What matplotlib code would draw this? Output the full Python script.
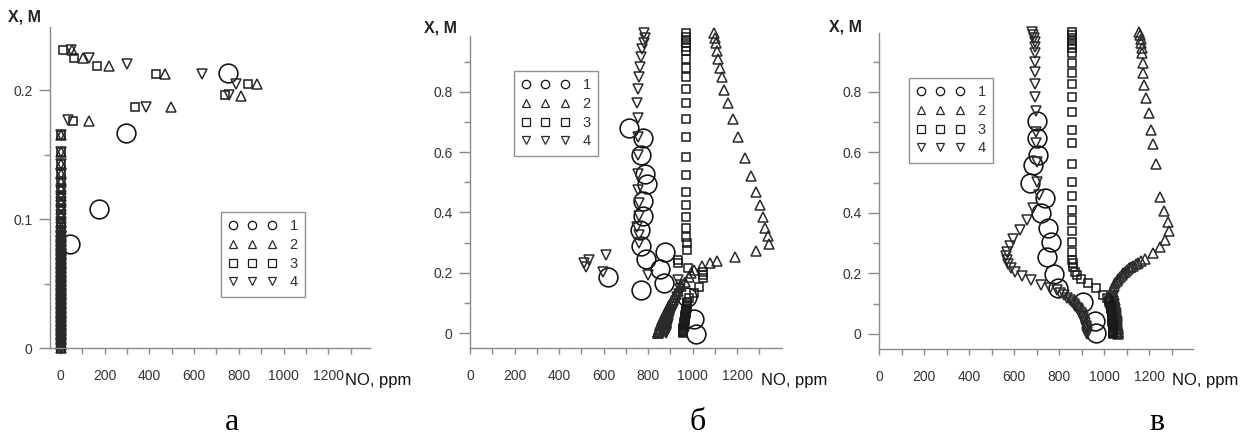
import matplotlib.pyplot as plt
from matplotlib.lines import Line2D

plt.rcParams['font.family'] = ['Liberation Sans', 'DejaVu Sans']

# x axis ticks shared by all three panels
x_ticks = [0, 200, 400, 600, 800, 1000, 1200]
x_tick_labels = ['0', '200', '400', '600', '800', '1000', '1200']
x_minor = [100, 300, 500, 700, 900, 1100, 1300]

series_labels = ['1', '2', '3', '4']
panel_letters = ['а', 'б', 'в']

# ---- panel a ----
a_circ_no = [753, 295, 174, 45]
a_circ_x = [0.2134, 0.167, 0.1075, 0.081]

# points above the near-zero column
a_tri_no = [55, 101, 221, 471, 880, 808, 497, 128, 5]
a_tri_x = [0.2315, 0.2253, 0.219, 0.2124, 0.2047, 0.1957, 0.1868, 0.176, 0.165]
a_sq_no = [15, 63, 164, 430, 841, 738, 334, 57, 2]
a_sq_x = [0.2315, 0.2253, 0.219, 0.2124, 0.2047, 0.196, 0.1868, 0.176, 0.165]
a_inv_no = [49, 131, 298, 634, 787, 758, 383, 37, 3]
a_inv_x = [0.2315, 0.2253, 0.22, 0.2127, 0.205, 0.196, 0.1868, 0.1767, 0.165]

# the column of near-zero NO values shared by series 2-4
a_col_no = [3, 3, 3, 3, 3, 3, 3, 3, 3, 3, 3, 3, 3, 3, 3, 3, 3, 3, 3,
            3, 3, 3, 3, 3, 3, 3, 3, 3, 3, 3, 3, 3, 3, 3, 3, 3, 3, 3,
            3, 3, 3, 3, 3, 3, 3, 3, 3, 3, 3, 3, 3, 3, 3, 3, 3, 3, 3]
a_col_x = [0.152, 0.143, 0.135, 0.129, 0.123, 0.118, 0.113, 0.108, 0.103,
           0.098, 0.094, 0.090, 0.088, 0.086, 0.084, 0.082, 0.080, 0.078,
           0.076, 0.074, 0.072, 0.070, 0.068, 0.066, 0.064, 0.062, 0.060,
           0.058, 0.056, 0.054, 0.052, 0.050, 0.048, 0.046, 0.044, 0.042,
           0.040, 0.038, 0.036, 0.034, 0.032, 0.030, 0.028, 0.026, 0.024,
           0.022, 0.020, 0.018, 0.016, 0.014, 0.012, 0.010, 0.008, 0.006,
           0.004, 0.002, 0.000]

# ---- panel b ----
b_circ_no = [716, 776, 768, 786, 795, 776, 776, 765, 768, 791, 876, 855,
             873, 768, 622, 975, 1005, 1016]
b_circ_x = [0.681, 0.646, 0.59, 0.526, 0.493, 0.439, 0.388, 0.342, 0.29,
            0.245, 0.27, 0.211, 0.165, 0.143, 0.185, 0.12, 0.045, -0.003]

b_tri_no = [1098, 1101, 1104, 1108, 1116, 1122, 1131, 1143, 1158, 1181,
            1206, 1236, 1263, 1285, 1303, 1315, 1327, 1338, 1342, 1285,
            1191, 1110, 1080, 1043, 1008, 993, 985, 965, 950, 935, 925,
            918, 912, 906, 900, 895, 890, 885, 880, 876, 872, 868, 865,
            862, 859, 856, 854, 852, 850, 849, 848, 847, 846, 845, 845]
b_tri_x = [0.994, 0.977, 0.961, 0.936, 0.908, 0.878, 0.849, 0.806, 0.762,
           0.71, 0.649, 0.581, 0.521, 0.467, 0.425, 0.386, 0.349, 0.322,
           0.295, 0.273, 0.253, 0.239, 0.233, 0.222, 0.209, 0.198, 0.187,
           0.17, 0.155, 0.14, 0.128, 0.118, 0.111, 0.104, 0.097, 0.09,
           0.083, 0.076, 0.069, 0.062, 0.056, 0.05, 0.044, 0.038, 0.032,
           0.027, 0.022, 0.017, 0.013, 0.01, 0.007, 0.005, 0.003, 0.001,
           0.0]

b_sq_no = [971, 971, 971, 971, 971, 971, 971, 971, 971, 971, 971, 971,
           971, 971, 971, 971, 971, 971, 971, 971, 975, 975, 933, 935,
           978, 1046, 1048, 1045, 1030, 1008, 985, 977, 976, 975, 974,
           973, 972, 971, 970, 969, 968, 967, 966, 965, 964, 963, 962,
           961, 960, 960, 959, 958, 958, 957, 957, 956, 956]
b_sq_x = [0.994, 0.983, 0.972, 0.961, 0.95, 0.936, 0.91, 0.878, 0.848,
          0.808, 0.762, 0.71, 0.651, 0.585, 0.524, 0.469, 0.425, 0.386,
          0.349, 0.319, 0.297, 0.275, 0.242, 0.231, 0.215, 0.203, 0.192,
          0.181, 0.154, 0.134, 0.115, 0.104, 0.099, 0.094, 0.089, 0.084,
          0.079, 0.074, 0.069, 0.064, 0.059, 0.054, 0.049, 0.044, 0.04,
          0.036, 0.032, 0.028, 0.024, 0.02, 0.016, 0.012, 0.009, 0.006,
          0.004, 0.002, 0.0]

b_inv_no = [783, 788, 780, 774, 769, 763, 758, 755, 752, 754, 754, 754,
            756, 754, 761, 761, 752, 758, 761, 611, 536, 514, 521, 596,
            799, 933, 950, 945, 938, 932, 926, 920, 914, 909, 904, 900,
            896, 893, 890, 888, 886, 884, 882, 881, 880, 880, 879, 879]
b_inv_x = [0.994, 0.977, 0.961, 0.941, 0.914, 0.883, 0.85, 0.808, 0.763,
           0.712, 0.651, 0.589, 0.526, 0.474, 0.43, 0.388, 0.353, 0.325,
           0.297, 0.259, 0.242, 0.231, 0.22, 0.203, 0.192, 0.176, 0.16,
           0.145, 0.13, 0.118, 0.107, 0.096, 0.086, 0.077, 0.068, 0.06,
           0.052, 0.045, 0.038, 0.031, 0.025, 0.019, 0.013, 0.009, 0.006,
           0.004, 0.002, 0.0]

# ---- panel c ----
c_circ_no = [704, 704, 708, 683, 671, 738, 720, 752, 763, 745, 779, 797,
             905, 960, 964]
c_circ_x = [0.704, 0.647, 0.592, 0.559, 0.5, 0.449, 0.401, 0.349, 0.303,
            0.254, 0.197, 0.151, 0.107, 0.044, 0.002]

c_tri_no = [1157, 1160, 1163, 1164, 1167, 1170, 1172, 1175, 1179, 1187,
            1200, 1207, 1219, 1231, 1249, 1264, 1286, 1290, 1271, 1249,
            1216, 1182, 1166, 1152, 1140, 1130, 1120, 1112, 1102, 1093,
            1086, 1079, 1071, 1063, 1056, 1049, 1043, 1038, 1038, 1042,
            1045, 1048, 1050, 1052, 1053, 1054, 1055, 1056, 1057, 1057,
            1058, 1058, 1059, 1059, 1059, 1060, 1060, 1060, 1060, 1061,
            1061, 1061, 1061]
c_tri_x = [0.998, 0.99, 0.975, 0.961, 0.944, 0.928, 0.897, 0.864, 0.823,
           0.781, 0.732, 0.674, 0.628, 0.561, 0.454, 0.408, 0.371, 0.34,
           0.311, 0.289, 0.267, 0.248, 0.242, 0.236, 0.23, 0.225, 0.221,
           0.217, 0.212, 0.206, 0.2, 0.195, 0.188, 0.182, 0.175, 0.168,
           0.16, 0.151, 0.14, 0.128, 0.12, 0.112, 0.104, 0.097, 0.09,
           0.083, 0.076, 0.07, 0.064, 0.058, 0.052, 0.046, 0.04, 0.035,
           0.03, 0.025, 0.02, 0.016, 0.012, 0.008, 0.005, 0.002, 0.0]

c_sq_no = [856, 856, 856, 856, 856, 856, 856, 856, 856, 856, 856, 856,
           856, 856, 856, 856, 856, 856, 856, 856, 856, 856, 856, 860,
           863, 871, 879, 896, 930, 964, 997, 1012, 1020, 1024, 1027,
           1029, 1031, 1032, 1033, 1034, 1035, 1035, 1036, 1036, 1037,
           1037, 1038, 1038, 1038, 1039, 1039, 1039, 1040, 1040, 1040,
           1040, 1041, 1041]
c_sq_x = [0.998, 0.99, 0.98, 0.97, 0.959, 0.945, 0.928, 0.897, 0.864,
          0.826, 0.782, 0.733, 0.674, 0.63, 0.562, 0.503, 0.456, 0.41,
          0.377, 0.342, 0.305, 0.272, 0.245, 0.235, 0.222, 0.206, 0.195,
          0.181, 0.168, 0.151, 0.129, 0.118, 0.111, 0.105, 0.099, 0.093,
          0.087, 0.081, 0.075, 0.07, 0.065, 0.06, 0.055, 0.05, 0.045,
          0.04, 0.036, 0.032, 0.028, 0.024, 0.02, 0.017, 0.014, 0.011,
          0.008, 0.005, 0.002, 0.0]

c_inv_no = [681, 686, 688, 693, 693, 693, 693, 693, 693, 693, 697, 697,
            697, 702, 704, 713, 686, 656, 627, 597, 582, 568, 563, 568,
            575, 588, 604, 634, 674, 719, 760, 790, 806, 820, 835, 849,
            858, 865, 872, 879, 885, 890, 896, 901, 905, 908, 912, 915,
            918, 920, 922, 923, 925]
c_inv_x = [0.998, 0.99, 0.98, 0.966, 0.95, 0.93, 0.9, 0.867, 0.826, 0.782,
           0.737, 0.669, 0.63, 0.57, 0.503, 0.46, 0.415, 0.377, 0.344,
           0.313, 0.291, 0.272, 0.258, 0.245, 0.23, 0.219, 0.206, 0.192,
           0.179, 0.162, 0.153, 0.146, 0.137, 0.128, 0.12, 0.112, 0.106,
           0.1, 0.093, 0.087, 0.081, 0.075, 0.069, 0.063, 0.056, 0.05,
           0.042, 0.035, 0.028, 0.022, 0.015, 0.008, 0.0]

AXIS_GREY = '#8a8a8a'
TEXT_DARK = '#333333'

styles = [
    dict(marker='o', ms=13.5, mfc='none', mec='#111111', mew=1.15),
    dict(marker='^', ms=6.5, mfc='none', mec='#2a2a2a', mew=1.1),
    dict(marker='s', ms=6, mfc='none', mec='#1a1a1a', mew=1.1),
    dict(marker='v', ms=6.5, mfc='none', mec='#2a2a2a', mew=1.1),
]


def style_axes(ax, xlim, ylim, yticks, ylabels, yminor):
    ax.set_xlim(*xlim)
    ax.set_ylim(*ylim)
    ax.patch.set_visible(False)
    for side in ['top', 'right']:
        ax.spines[side].set_visible(False)
    for side in ['left', 'bottom']:
        ax.spines[side].set_color(AXIS_GREY)
        ax.spines[side].set_linewidth(1.0)
    ax.set_xticks(x_ticks)
    ax.set_xticklabels(x_tick_labels)
    ax.set_xticks(x_minor, minor=True)
    ax.set_yticks(yticks)
    ax.set_yticklabels(ylabels)
    ax.set_yticks(yminor, minor=True)
    ax.tick_params(axis='x', which='both', direction='out', length=4,
                   width=1.0, color=AXIS_GREY, labelsize=10,
                   labelcolor=TEXT_DARK, pad=11)
    ax.tick_params(axis='y', which='major', direction='out', length=8,
                   width=1.0, color=AXIS_GREY, labelsize=10,
                   labelcolor=TEXT_DARK, pad=4.5)
    ax.tick_params(axis='y', which='minor', direction='out', length=4.5,
                   width=1.0, color=AXIS_GREY)


def draw_series(ax, data):
    for (no, x), st in zip(data, styles):
        ax.plot(no, x, linestyle='none', clip_on=False, **st)


def add_legend(ax, fig, anchor):
    handles = []
    for st in styles:
        st2 = dict(st)
        st2['ms'] = 6 if st['marker'] != 's' else 5.5
        st2['mew'] = 0.9
        handles.append(Line2D([], [], linestyle='none', **st2))
    leg = ax.legend(handles, series_labels, numpoints=3, loc='upper left',
                    bbox_to_anchor=anchor, bbox_transform=fig.transFigure,
                    borderaxespad=0, frameon=True, fancybox=False,
                    edgecolor='#777777', fontsize=10.5, handlelength=3.3,
                    handletextpad=0.9, borderpad=0.5, labelspacing=0.32)
    leg.get_frame().set_linewidth(1.0)
    for t in leg.get_texts():
        t.set_color(TEXT_DARK)


def main():
    W, H = 1259, 446
    fig = plt.figure(figsize=(W / 100, H / 100), dpi=100)

    ax_a = fig.add_axes([50 / W, 1 - 348 / H, 320 / W, 321 / H])
    ax_b = fig.add_axes([470 / W, 1 - 348 / H, 312 / W, 312 / H])
    ax_c = fig.add_axes([879 / W, 1 - 349 / H, 314 / W, 316 / H])

    style_axes(ax_a, (-45, 1387), (0, 0.249), [0, 0.1, 0.2],
               ['0', '0.1', '0.2'], [0.05, 0.15])
    style_axes(ax_b, (0, 1402), (-0.0497, 0.985), [0, 0.2, 0.4, 0.6, 0.8],
               ['0', '0.2', '0.4', '0.6', '0.8'], [0.1, 0.3, 0.5, 0.7, 0.9])
    style_axes(ax_c, (0, 1395), (-0.0496, 0.995), [0, 0.2, 0.4, 0.6, 0.8],
               ['0', '0.2', '0.4', '0.6', '0.8'], [0.1, 0.3, 0.5, 0.7, 0.9])

    draw_series(ax_a, [(a_circ_no, a_circ_x),
                       (a_tri_no + a_col_no, a_tri_x + a_col_x),
                       (a_sq_no + a_col_no, a_sq_x + a_col_x),
                       (a_inv_no + a_col_no, a_inv_x + a_col_x)])
    draw_series(ax_b, [(b_circ_no, b_circ_x), (b_tri_no, b_tri_x),
                       (b_sq_no, b_sq_x), (b_inv_no, b_inv_x)])
    draw_series(ax_c, [(c_circ_no, c_circ_x), (c_tri_no, c_tri_x),
                       (c_sq_no, c_sq_x), (c_inv_no, c_inv_x)])

    add_legend(ax_a, fig, (221 / W, 1 - 212 / H))
    add_legend(ax_b, fig, (514 / W, 1 - 71 / H))
    add_legend(ax_c, fig, (909 / W, 1 - 78 / H))

    # axis captions
    for x, y in [(8, 17), (424, 28), (829, 27)]:
        fig.text(x / W, 1 - y / H, 'X, М', fontsize=11.5, fontweight='bold',
                 color='#222222', ha='left', va='center')
    for x in [345, 761, 1172]:
        fig.text(x / W, 1 - 381 / H, 'NO, ppm', fontsize=12, color='#111111',
                 ha='left', va='center')

    # panel letters
    for x, letter in zip([232, 698, 1157], panel_letters):
        fig.text(x / W, 1 - 422 / H, letter, fontsize=23, color='black',
                 ha='center', va='center',
                 family=['Liberation Serif', 'DejaVu Serif'])

    fig.savefig('out.png', dpi=100)


if __name__ == "__main__":
    main()
